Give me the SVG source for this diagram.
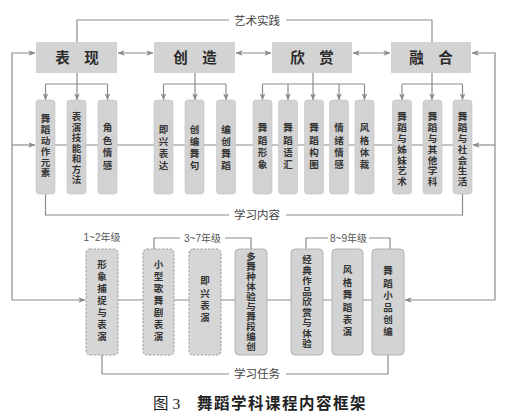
<svg xmlns="http://www.w3.org/2000/svg" width="508" height="420" viewBox="0 0 508 420">
<defs>
<marker id="ah" viewBox="0 0 8 8" refX="7.5" refY="4" markerWidth="7" markerHeight="7" markerUnits="userSpaceOnUse" orient="auto-start-reverse">
<path d="M0,0.8 L8,4 L0,7.2 L2,4 Z" fill="#8a8a8a"/>
</marker>
<style>
.ln{fill:none;stroke:#8c8c8c;stroke-width:1.2}
.ar{marker-end:url(#ah)}
.da{marker-start:url(#ah);marker-end:url(#ah)}
.tb{fill:#d3d3d3}
.vb{fill:#d2d2d2;stroke:#c4c4c4;stroke-width:0.6}
.db{fill:#d6d6d6;stroke:#9a9a9a;stroke-width:1;stroke-dasharray:2.2,1.6}
.sb{fill:#d3d3d3;stroke:#a6a6a6;stroke-width:0.8}
.tt{font-family:"Noto Sans CJK SC",sans-serif;font-size:14.5px;font-weight:bold;fill:#2a2a2a;text-anchor:middle}
.vt{font-family:"Noto Sans CJK SC",sans-serif;font-size:9.5px;font-weight:bold;fill:#333;text-anchor:middle}
.lb{font-family:"Noto Sans CJK SC",sans-serif;font-size:11.5px;fill:#444;text-anchor:middle}
.gl{font-family:"Liberation Sans","Noto Sans CJK SC",sans-serif;font-size:10px;fill:#555;text-anchor:middle}
.cap{font-family:"Noto Sans CJK SC",serif;font-size:15.5px;font-weight:bold;fill:#222}
</style>
</defs>
<rect width="508" height="420" fill="#ffffff"/>
<g id="connectors">
<path class="ln" d="M77,42 V20 H229 M286,20 H432 V42"/>
<path class="ln da" d="M118,53 H153"/>
<path class="ln da" d="M236,53 H271"/>
<path class="ln da" d="M353,53 H390"/>
<path class="ln" d="M36,145 H472"/>
<path class="ln" d="M86,300 H404"/>
<path class="ln" d="M45.5,84 H107.5 M163.5,84 H226 M262.5,84 H364.5 M402,84 H462.5"/>
<path class="ln ar" d="M77,73 V100"/>
<path class="ln ar" d="M45.5,84 V100"/>
<path class="ln ar" d="M107.5,84 V100"/>
<path class="ln ar" d="M195,73 V100"/>
<path class="ln ar" d="M163.5,84 V100"/>
<path class="ln ar" d="M226,84 V100"/>
<path class="ln ar" d="M313,73 V100"/>
<path class="ln ar" d="M262.5,84 V100"/>
<path class="ln ar" d="M288,84 V100"/>
<path class="ln ar" d="M339,84 V100"/>
<path class="ln ar" d="M364.5,84 V100"/>
<path class="ln ar" d="M432,73 V100"/>
<path class="ln ar" d="M402,84 V100"/>
<path class="ln ar" d="M462.5,84 V100"/>
<path class="ln ar" d="M12,300 V53 H35"/>
<path class="ln ar" d="M12,145 H35"/>
<path class="ln ar" d="M12,300 H85"/>
<path class="ln ar" d="M495,300 V53 H472"/>
<path class="ln ar" d="M495,145 H473"/>
<path class="ln ar" d="M495,300 H405"/>
<path class="ln" d="M45.5,194 V215 H229 M286,215 H462.5 V194"/>
<path class="ln" d="M102,355 V374 H229 M286,374 H388 V355"/>
<path class="ln" d="M154,249 V238 H180 M225,238 H251 V249"/>
<path class="ln" d="M306,249 V238 H328 M369,238 H390 V249"/>
</g>
<g id="labels">
<text class="lb" x="257" y="24.5">艺术实践</text>
<text class="lb" x="257" y="219">学习内容</text>
<text class="lb" x="257" y="378">学习任务</text>
<text class="gl" x="102" y="241">1~2年级</text>
<text class="gl" x="202.5" y="241.5">3~7年级</text>
<text class="gl" x="348.5" y="241.5">8~9年级</text>
</g>
<g id="n-biaoxian"><rect class="tb" x="36" y="42" width="81" height="31"/><text class="tt" x="77" y="62.5">表　现</text></g>
<g id="n-chuangzao"><rect class="tb" x="154" y="42" width="81" height="31"/><text class="tt" x="195" y="62.5">创　造</text></g>
<g id="n-xinshang"><rect class="tb" x="272" y="42" width="80" height="31"/><text class="tt" x="312" y="62.5">欣　赏</text></g>
<g id="n-ronghe"><rect class="tb" x="391" y="42" width="80" height="31"/><text class="tt" x="431" y="62.5">融　合</text></g>

<g id="n-a1"><rect class="vb" x="36" y="100" width="19" height="94" rx="3"/><text class="vt" y="122.4"><tspan x="45.5">舞</tspan><tspan x="45.5" dy="10.8">蹈</tspan><tspan x="45.5" dy="10.8">动</tspan><tspan x="45.5" dy="10.8">作</tspan><tspan x="45.5" dy="10.8">元</tspan><tspan x="45.5" dy="10.8">素</tspan></text></g>
<g id="n-a2"><rect class="vb" x="67" y="100" width="19" height="94" rx="3"/><text class="vt" y="120.4"><tspan x="76.5">表</tspan><tspan x="76.5" dy="10.5">演</tspan><tspan x="76.5" dy="10.5">技</tspan><tspan x="76.5" dy="10.5">能</tspan><tspan x="76.5" dy="10.5">和</tspan><tspan x="76.5" dy="10.5">方</tspan><tspan x="76.5" dy="10.5">法</tspan></text></g>
<g id="n-a3"><rect class="vb" x="98" y="100" width="19" height="94" rx="3"/><text class="vt" y="131.4"><tspan x="107.5">角</tspan><tspan x="107.5" dy="12.5">色</tspan><tspan x="107.5" dy="12.5">情</tspan><tspan x="107.5" dy="12.5">感</tspan></text></g>
<g id="n-b1"><rect class="vb" x="154" y="100" width="19" height="94" rx="3"/><text class="vt" y="133.4"><tspan x="163.5">即</tspan><tspan x="163.5" dy="12">兴</tspan><tspan x="163.5" dy="12">表</tspan><tspan x="163.5" dy="12">达</tspan></text></g>
<g id="n-b2"><rect class="vb" x="185" y="100" width="19" height="94" rx="3"/><text class="vt" y="133.4"><tspan x="194.5">创</tspan><tspan x="194.5" dy="12">编</tspan><tspan x="194.5" dy="12">舞</tspan><tspan x="194.5" dy="12">句</tspan></text></g>
<g id="n-b3"><rect class="vb" x="216.5" y="100" width="19" height="94" rx="3"/><text class="vt" y="133.4"><tspan x="226">编</tspan><tspan x="226" dy="12">创</tspan><tspan x="226" dy="12">舞</tspan><tspan x="226" dy="12">蹈</tspan></text></g>
<g id="n-c1"><rect class="vb" x="253" y="100" width="19" height="94" rx="3"/><text class="vt" y="131.4"><tspan x="262.5">舞</tspan><tspan x="262.5" dy="12.3">蹈</tspan><tspan x="262.5" dy="12.3">形</tspan><tspan x="262.5" dy="12.3">象</tspan></text></g>
<g id="n-c2"><rect class="vb" x="278.5" y="100" width="19" height="94" rx="3"/><text class="vt" y="131.4"><tspan x="288">舞</tspan><tspan x="288" dy="12.3">蹈</tspan><tspan x="288" dy="12.3">语</tspan><tspan x="288" dy="12.3">汇</tspan></text></g>
<g id="n-c3"><rect class="vb" x="304.5" y="100" width="19" height="94" rx="3"/><text class="vt" y="131.4"><tspan x="314">舞</tspan><tspan x="314" dy="12.3">蹈</tspan><tspan x="314" dy="12.3">构</tspan><tspan x="314" dy="12.3">图</tspan></text></g>
<g id="n-c4"><rect class="vb" x="329.5" y="100" width="19" height="94" rx="3"/><text class="vt" y="131.4"><tspan x="339">情</tspan><tspan x="339" dy="12.3">绪</tspan><tspan x="339" dy="12.3">情</tspan><tspan x="339" dy="12.3">感</tspan></text></g>
<g id="n-c5"><rect class="vb" x="355" y="100" width="19" height="94" rx="3"/><text class="vt" y="131.4"><tspan x="364.5">风</tspan><tspan x="364.5" dy="12.3">格</tspan><tspan x="364.5" dy="12.3">体</tspan><tspan x="364.5" dy="12.3">裁</tspan></text></g>
<g id="n-d1"><rect class="vb" x="392.5" y="100" width="19" height="94" rx="3"/><text class="vt" y="120.4"><tspan x="402">舞</tspan><tspan x="402" dy="10.8">蹈</tspan><tspan x="402" dy="10.8">与</tspan><tspan x="402" dy="10.8">姊</tspan><tspan x="402" dy="10.8">妹</tspan><tspan x="402" dy="10.8">艺</tspan><tspan x="402" dy="10.8">术</tspan></text></g>
<g id="n-d2"><rect class="vb" x="423" y="100" width="19" height="94" rx="3"/><text class="vt" y="120.4"><tspan x="432.5">舞</tspan><tspan x="432.5" dy="10.8">蹈</tspan><tspan x="432.5" dy="10.8">与</tspan><tspan x="432.5" dy="10.8">其</tspan><tspan x="432.5" dy="10.8">他</tspan><tspan x="432.5" dy="10.8">学</tspan><tspan x="432.5" dy="10.8">科</tspan></text></g>
<g id="n-d3"><rect class="vb" x="453" y="100" width="19" height="94" rx="3"/><text class="vt" y="120.4"><tspan x="462.5">舞</tspan><tspan x="462.5" dy="10.8">蹈</tspan><tspan x="462.5" dy="10.8">与</tspan><tspan x="462.5" dy="10.8">社</tspan><tspan x="462.5" dy="10.8">会</tspan><tspan x="462.5" dy="10.8">生</tspan><tspan x="462.5" dy="10.8">活</tspan></text></g>

<g id="n-e1"><rect class="db" x="86" y="249" width="32" height="106" rx="4"/><text class="vt" y="268.4"><tspan x="102">形</tspan><tspan x="102" dy="12">象</tspan><tspan x="102" dy="12">捕</tspan><tspan x="102" dy="12">捉</tspan><tspan x="102" dy="12">与</tspan><tspan x="102" dy="12">表</tspan><tspan x="102" dy="12">演</tspan></text></g>
<g id="n-e2"><rect class="db" x="143" y="249" width="31" height="106" rx="4"/><text class="vt" y="268.4"><tspan x="158.5">小</tspan><tspan x="158.5" dy="12">型</tspan><tspan x="158.5" dy="12">歌</tspan><tspan x="158.5" dy="12">舞</tspan><tspan x="158.5" dy="12">剧</tspan><tspan x="158.5" dy="12">表</tspan><tspan x="158.5" dy="12">演</tspan></text></g>
<g id="n-e3"><rect class="db" x="189" y="249" width="32" height="106" rx="4"/><text class="vt" y="284.4"><tspan x="205">即</tspan><tspan x="205" dy="12.3">兴</tspan><tspan x="205" dy="12.3">表</tspan><tspan x="205" dy="12.3">演</tspan></text></g>
<g id="n-e4"><rect class="sb" x="235" y="249" width="32" height="106" rx="4"/><text class="vt" y="260.4"><tspan x="251">多</tspan><tspan x="251" dy="10">舞</tspan><tspan x="251" dy="10">种</tspan><tspan x="251" dy="10">体</tspan><tspan x="251" dy="10">验</tspan><tspan x="251" dy="10">与</tspan><tspan x="251" dy="10">舞</tspan><tspan x="251" dy="10">段</tspan><tspan x="251" dy="10">编</tspan><tspan x="251" dy="10">创</tspan></text></g>
<g id="n-e5"><rect class="sb" x="291" y="249" width="32" height="106" rx="4"/><text class="vt" y="263.4"><tspan x="307">经</tspan><tspan x="307" dy="10.5">典</tspan><tspan x="307" dy="10.5">作</tspan><tspan x="307" dy="10.5">品</tspan><tspan x="307" dy="10.5">欣</tspan><tspan x="307" dy="10.5">赏</tspan><tspan x="307" dy="10.5">与</tspan><tspan x="307" dy="10.5">体</tspan><tspan x="307" dy="10.5">验</tspan></text></g>
<g id="n-e6"><rect class="sb" x="332" y="249" width="31" height="106" rx="4"/><text class="vt" y="273.4"><tspan x="347.5">风</tspan><tspan x="347.5" dy="12.4">格</tspan><tspan x="347.5" dy="12.4">舞</tspan><tspan x="347.5" dy="12.4">蹈</tspan><tspan x="347.5" dy="12.4">表</tspan><tspan x="347.5" dy="12.4">演</tspan></text></g>
<g id="n-e7"><rect class="sb" x="372" y="249" width="32" height="106" rx="4"/><text class="vt" y="274.4"><tspan x="388">舞</tspan><tspan x="388" dy="12.2">蹈</tspan><tspan x="388" dy="12.2">小</tspan><tspan x="388" dy="12.2">品</tspan><tspan x="388" dy="12.2">创</tspan><tspan x="388" dy="12.2">编</tspan></text></g>

<g id="caption"><text class="cap" x="153" y="409"><tspan font-family="'Liberation Serif','Noto Sans CJK SC',serif" font-weight="normal">图 3</tspan><tspan x="197" letter-spacing="1.5">舞蹈学科课程内容框架</tspan></text></g>
</svg>
